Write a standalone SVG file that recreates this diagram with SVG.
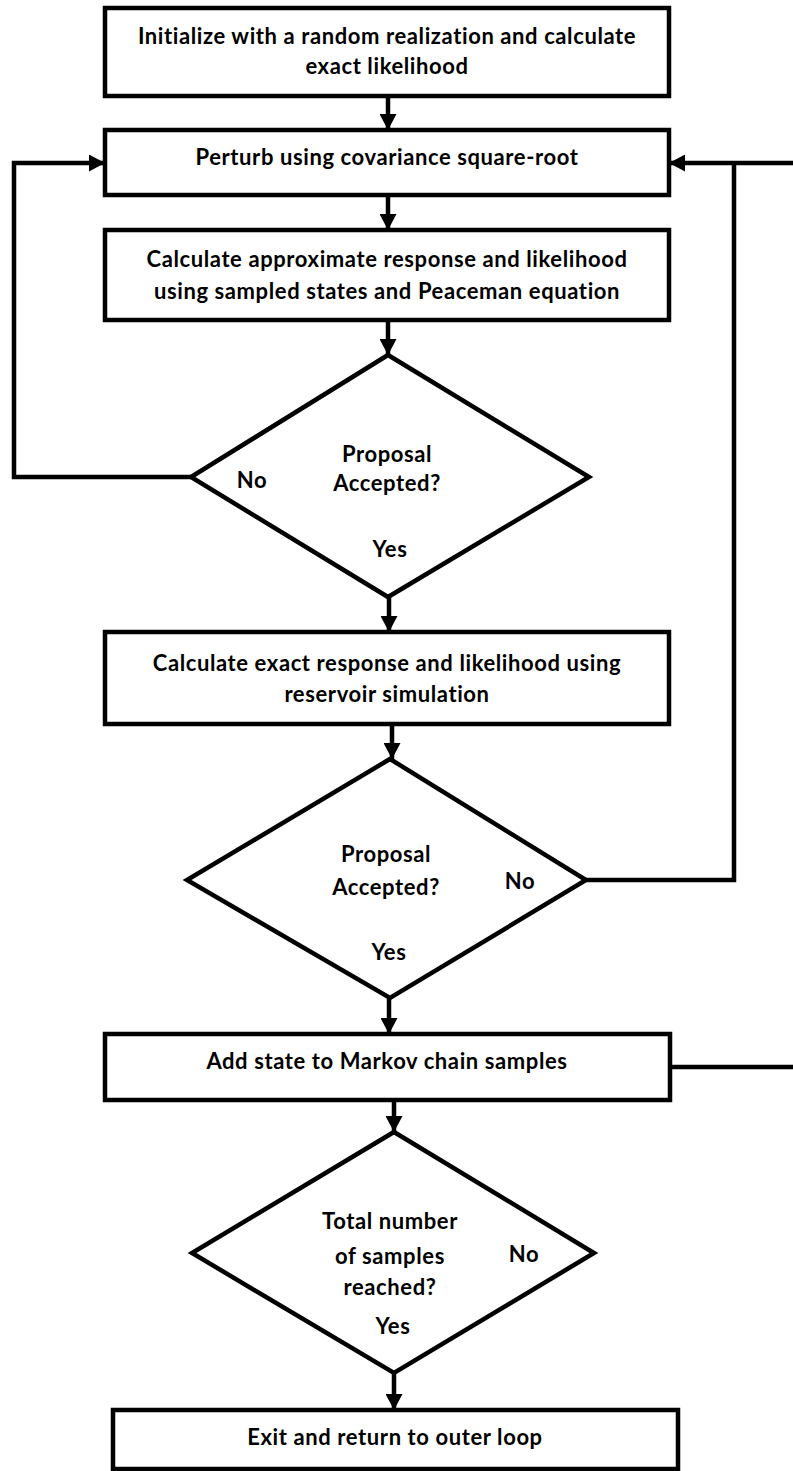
<svg xmlns="http://www.w3.org/2000/svg" width="793" height="1471" viewBox="0 0 793 1471">
<defs>
<marker id="ah" viewBox="0 0 16 17" refX="16" refY="8.5" markerWidth="16" markerHeight="17" markerUnits="userSpaceOnUse" orient="auto">
<path d="M0,0 L16,8.5 L0,17 Z" fill="#000"/>
</marker>
</defs>
<style>
.box{fill:#fff;stroke:#000;stroke-width:4.5}
.t{font-family:Lato,"Liberation Sans",sans-serif;font-weight:bold;font-size:22px;letter-spacing:0.6px;fill:#000;text-anchor:middle}
.c{fill:none;stroke:#000;stroke-width:4.5}
</style>
<rect width="793" height="1471" fill="#fff"/>
<g id="connectors">
<path class="c" d="M388,96 V130" marker-end="url(#ah)"/>
<path class="c" d="M388,195 V230" marker-end="url(#ah)"/>
<path class="c" d="M388,320 V355" marker-end="url(#ah)"/>
<path class="c" d="M389,597 V632" marker-end="url(#ah)"/>
<path class="c" d="M392,724 V759" marker-end="url(#ah)"/>
<path class="c" d="M389,998 V1034" marker-end="url(#ah)"/>
<path class="c" d="M394,1100 V1132" marker-end="url(#ah)"/>
<path class="c" d="M394,1373 V1410" marker-end="url(#ah)"/>
<path class="c" d="M191,477 H14 V163 H105" marker-end="url(#ah)"/>
<path class="c" d="M586,880 H734 V163"/>
<path class="c" d="M793,163 H669" marker-end="url(#ah)"/>
<path class="c" d="M670,1067 H793"/>
</g>
<g id="n1">
<rect class="box" x="105" y="8" width="564" height="88"/>
<text class="t" x="387" y="44">Initialize with a random realization and calculate</text>
<text class="t" x="387" y="74">exact likelihood</text>
</g>
<g id="n2">
<rect class="box" x="105" y="130" width="564" height="65"/>
<text class="t" x="387" y="165">Perturb using covariance square-root</text>
</g>
<g id="n3">
<rect class="box" x="105" y="230" width="564" height="90"/>
<text class="t" x="387" y="267">Calculate approximate response and likelihood</text>
<text class="t" x="387" y="299">using sampled states and Peaceman equation</text>
</g>
<g id="d1">
<polygon class="box" points="388,355 589,477 388,597 191,477"/>
<text class="t" x="387" y="462">Proposal</text>
<text class="t" x="387" y="491">Accepted?</text>
<text class="t" x="252" y="488">No</text>
<text class="t" x="390" y="557">Yes</text>
</g>
<g id="n4">
<rect class="box" x="105" y="632" width="564" height="92"/>
<text class="t" x="387" y="671">Calculate exact response and likelihood using</text>
<text class="t" x="387" y="702">reservoir simulation</text>
</g>
<g id="d2">
<polygon class="box" points="390,759 586,880 390,998 187,880"/>
<text class="t" x="386" y="862">Proposal</text>
<text class="t" x="386" y="895">Accepted?</text>
<text class="t" x="520" y="889">No</text>
<text class="t" x="389" y="960">Yes</text>
</g>
<g id="n5">
<rect class="box" x="105" y="1034" width="565" height="66"/>
<text class="t" x="387" y="1069">Add state to Markov chain samples</text>
</g>
<g id="d3">
<polygon class="box" points="394,1132 594,1253 394,1373 192,1253"/>
<text class="t" x="390" y="1229">Total number</text>
<text class="t" x="390" y="1264">of samples</text>
<text class="t" x="390" y="1295">reached?</text>
<text class="t" x="524" y="1262">No</text>
<text class="t" x="393" y="1334">Yes</text>
</g>
<g id="n6">
<rect class="box" x="113" y="1410" width="565" height="59"/>
<text class="t" x="395" y="1445">Exit and return to outer loop</text>
</g>
</svg>
